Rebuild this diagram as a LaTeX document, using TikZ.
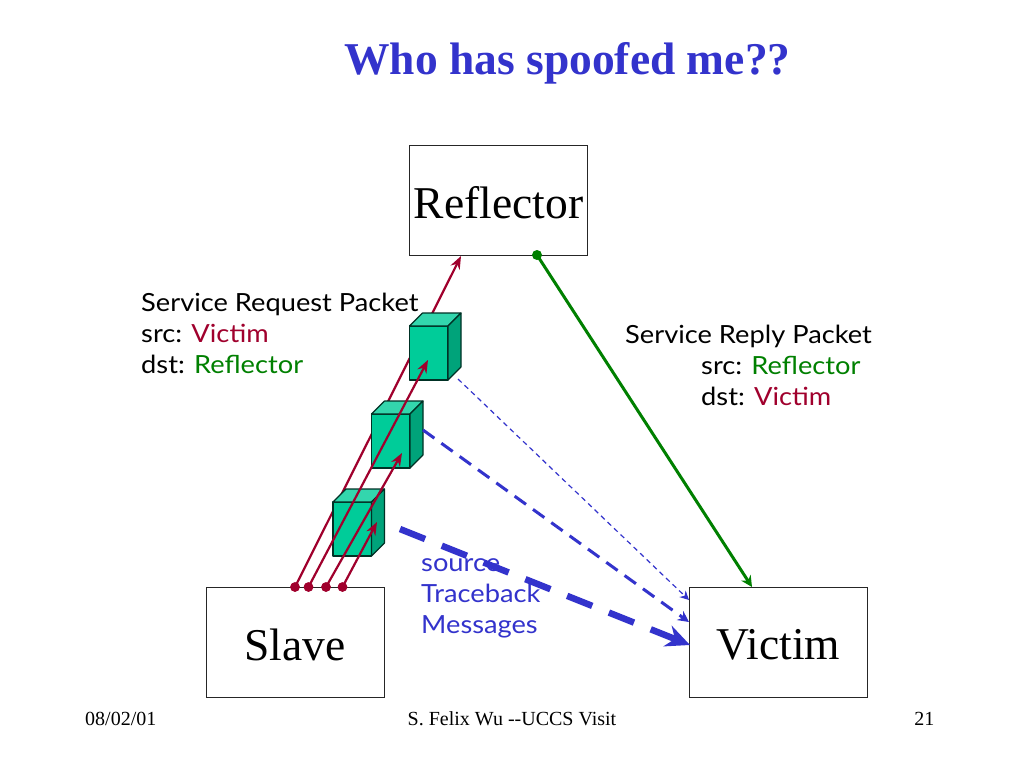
\documentclass[tikz,border=0pt]{standalone}
\usepackage{fontspec}
\setmainfont{Liberation Serif}
\newfontfamily\comic[FakeStretch=1.09]{Lato}
\usetikzlibrary{arrows.meta}
\definecolor{ttl}{RGB}{51,51,204}
\definecolor{req}{RGB}{160,0,45}
\definecolor{grn}{RGB}{0,128,0}
\definecolor{cubef}{RGB}{0,204,153}
\definecolor{cubet}{RGB}{51,214,173}
\definecolor{cubes}{RGB}{0,163,122}
\newcommand{\lowered}[1]{\raisebox{-3pt}[\height][\depth]{#1}}
\tikzset{
 x=1pt,y=-1pt,
 boxn/.style={draw=black!85,line width=1pt,fill=white,minimum width=178pt,minimum height=110pt,inner sep=0pt,font=\fontsize{45.5}{45.5}\selectfont},
 lab/.style={font=\comic\fontsize{25}{31}\selectfont,align=left,anchor=north west,inner sep=0pt},
 foot/.style={font=\fontsize{20}{20}\selectfont,inner sep=0pt,anchor=base},
 reqline/.style={req,line width=2.2pt,-{Stealth[length=13pt,width=10pt]}},
 dotn/.style={circle,fill=req,inner sep=0pt,minimum size=9.5pt},
 cubeface/.style={draw=black!70!cubes,line width=1.1pt,line join=round}
}
\newcommand{\packetcube}[2]{%
 \fill[cubef,cubeface] (#1,#2) rectangle ++(38.5,54);
 \fill[cubet,cubeface] (#1,#2) -- ++(13,-13) -- ++(38.5,0) -- ++(-13,13) -- cycle;
 \fill[cubes,cubeface] (#1+38.5,#2) -- ++(13,-13) -- ++(0,54) -- ++(-13,13) -- cycle;
}
\begin{document}
\begin{tikzpicture}
\useasboundingbox (0,0) rectangle (1024,768);
\fill[white] (0,0) rectangle (1024,768);
\node[font=\bfseries\fontsize{45.5}{45.5}\selectfont,text=ttl,inner sep=0pt] (title) at (567.5,63) {Who has spoofed me??};
\node[boxn] (refl) at (498.5,200) {\lowered{Reflector}};
\node[boxn] (slave) at (295,642) {\lowered{Slave}};
\node[boxn] (vict) at (778.5,642) {\lowered{Victim}};
\node[dotn] (d1) at (295,587) {};
\node[dotn] (d2) at (308.5,587) {};
\node[dotn] (d3) at (326,587) {};
\node[dotn] (d4) at (342.5,587) {};
\coordinate (t1) at (461,256);
\coordinate (t2) at (428,360);
\coordinate (t3) at (402,453);
\coordinate (t4) at (377,522);
\draw[reqline] (d1.center) -- (t1);
\packetcube{409.5}{326}
\packetcube{371.5}{414}
\packetcube{333}{502}
\draw[reqline] (d2.center) -- (t2);
\draw[reqline] (d3.center) -- (t3);
\draw[reqline] (d4.center) -- (t4);
\node[dotn] at (d1) {};
\node[dotn] at (d2) {};
\node[dotn] at (d3) {};
\node[dotn] at (d4) {};
\node[circle,fill=grn,inner sep=0pt,minimum size=10pt] (gd) at (537,255) {};
\draw[grn,line width=3pt,-{Stealth[length=11pt,width=11pt]}] (gd.center) -- (752,587);
\coordinate (a1) at (458,379);
\coordinate (a2) at (423,430);
\coordinate (a3) at (400,529);
\draw[ttl,line width=1.2pt,dash pattern=on 5pt off 4pt,-{Stealth[length=9pt,width=9pt]}] (a1) -- (vict.west |- 0,600);
\draw[ttl,line width=3pt,dash pattern=on 14pt off 8.6pt,-{Stealth[length=11pt,width=11pt]}] (a2) -- (vict.west |- 0,622);
\draw[ttl,line width=6.5pt,dash pattern=on 27pt off 18pt,-{Stealth[length=24pt,width=22pt]}] (a3) -- (690,645);
\node[lab] (reqlab) at (141,293) {Service Request Packet\\src: \textcolor{req}{Victim}\\dst: \textcolor{grn}{Reflector}};
\node[lab] (replab) at (625,325) {Service Reply Packet\\\hspace*{76pt}src: \textcolor{grn}{Reflector}\\\hspace*{76pt}dst: \textcolor{req}{Victim}};
\node[lab,text=ttl] (src) at (421,558) {source\\Traceback\\Messages};
\node[foot,anchor=base west] (f1) at (85,725) {08/02/01};
\node[foot] (f2) at (512,725) {S. Felix Wu -{}-UCCS Visit};
\node[foot,anchor=base east] (f3) at (934.5,725) {21};
\end{tikzpicture}
\end{document}
